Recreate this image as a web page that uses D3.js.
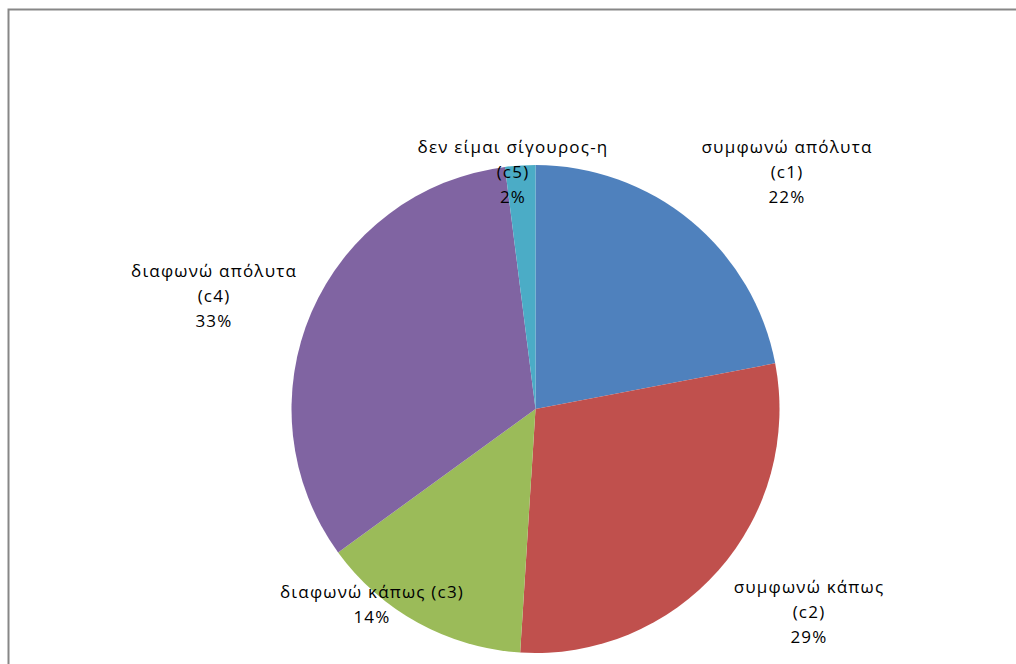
<!DOCTYPE html>
<html>
<head>
<meta charset="utf-8">
<script src="https://cdn.jsdelivr.net/npm/d3@7"></script>
<style>
  html, body { margin: 0; padding: 0; background: #fff; }
  svg { display: block; }
</style>
</head>
<body>
<svg id="chart" width="1016" height="664"></svg>
<script>
// ---- data ----
const categories = ["συμφωνώ απόλυτα", "συμφωνώ κάπως", "διαφωνώ κάπως", "διαφωνώ απόλυτα", "δεν είμαι σίγουρος-η"];
const codes = ["c1", "c2", "c3", "c4", "c5"];
const values = [22, 29, 14, 33, 2];
const percentLabels = ["22%", "29%", "14%", "33%", "2%"];

// ---- styling / layout ----
const colors = ["#4F81BD", "#C0504D", "#9BBB59", "#8064A2", "#4BACC6"];
const cx = 535.5, cy = 409, R = 244;
// label centre offsets relative to the pie centre
const labelLayout = [
  { dx: 787 - 535.5, dy: -237, oneLine: false },
  { dx: 809 - 535.5, dy: 203, oneLine: false },
  { dx: 372 - 535.5, dy: 196, oneLine: true },
  { dx: 214 - 535.5, dy: -113, oneLine: false },
  { dx: 513 - 535.5, dy: -237, oneLine: false }
];
const lineH = 25;

const svg = d3.select("#chart");

// chart frame (extends past the right/bottom edges as in the reference)
svg.append("rect")
  .attr("x", 8.5).attr("y", 9.5)
  .attr("width", 1100).attr("height", 700)
  .attr("fill", "none")
  .attr("stroke", "#878787")
  .attr("stroke-width", 2);

const data = categories.map((c, i) => ({ cat: c, code: codes[i], value: values[i], pct: percentLabels[i], i }));

const pie = d3.pie().value(d => d.value).sort(null);
const arc = d3.arc().innerRadius(0).outerRadius(R);

const g = svg.append("g").attr("transform", `translate(${cx},${cy})`);

g.selectAll("path.slice")
  .data(pie(data))
  .join("path")
  .attr("class", "slice")
  .attr("d", arc)
  .attr("fill", d => colors[d.data.i])
  .attr("stroke", "none");

// labels
const labels = g.selectAll("g.label")
  .data(data)
  .join("g")
  .attr("class", "label")
  .attr("transform", d => `translate(${labelLayout[d.i].dx},${labelLayout[d.i].dy})`);

labels.each(function(d) {
  const L = labelLayout[d.i];
  const lines = L.oneLine
    ? [d.cat + " (" + d.code + ")", d.pct]
    : [d.cat, "(" + d.code + ")", d.pct];
  const n = lines.length;
  const t = d3.select(this).append("text")
    .attr("text-anchor", "middle")
    .attr("font-family", "'Open Sans', 'Noto Sans', sans-serif")
    .attr("font-size", 17)
    .attr("letter-spacing", 1.2)
    .attr("fill", "#000");
  lines.forEach((ln, k) => {
    t.append("tspan")
      .attr("x", 0)
      .attr("y", (k - (n - 1) / 2) * lineH)
      .attr("dy", "0.35em")
      .text(ln);
  });
});
</script>
</body>
</html>
